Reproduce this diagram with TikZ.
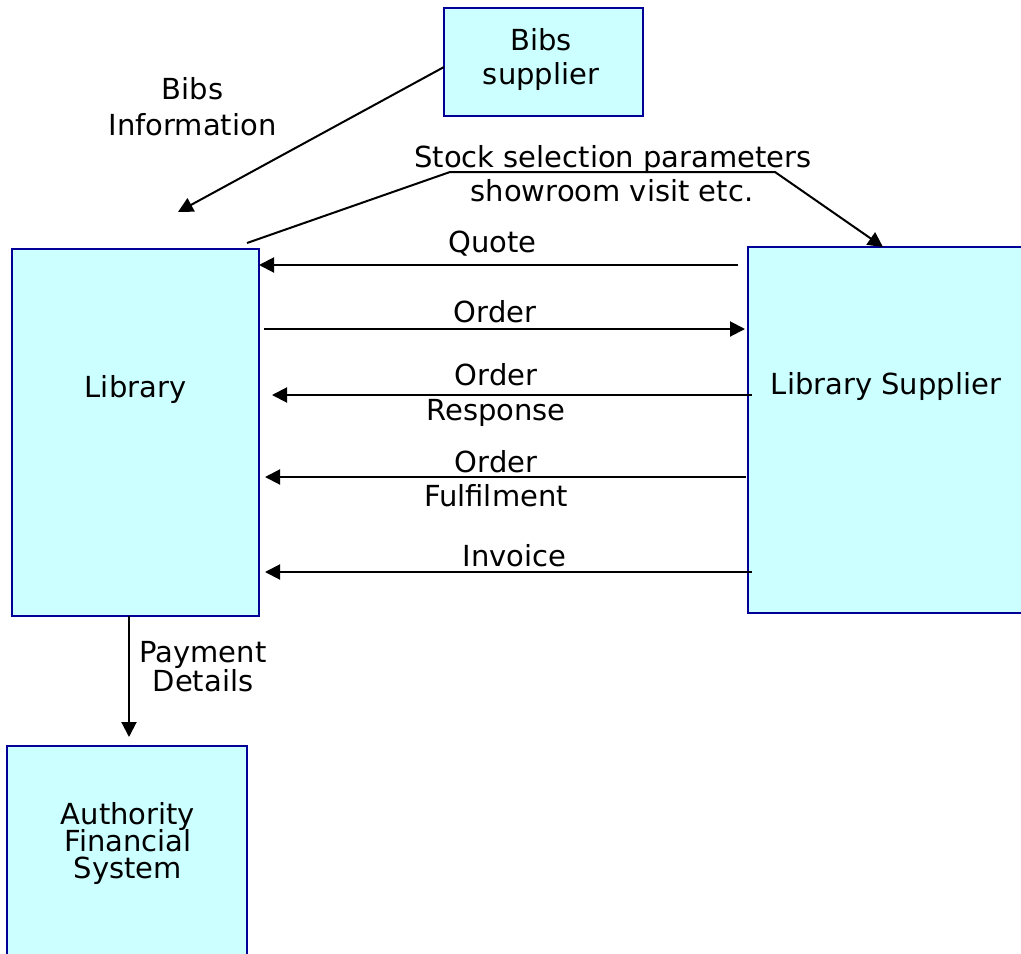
\documentclass[tikz,border=0pt]{standalone}
\usepackage{fontspec}
\setmainfont{DejaVu Sans}
\usetikzlibrary{arrows.meta}
\definecolor{boxfill}{HTML}{CCFFFF}
\definecolor{boxline}{HTML}{000099}
\tikzset{
  box/.style={draw=boxline, fill=boxfill, line width=2.2pt, inner sep=0pt, outer sep=0pt},
  txt/.style={font=\fontsize{29}{34}\selectfont, inner sep=0pt, anchor=base},
  conn/.style={line width=2pt, draw=black},
  arr/.style={conn, -{Triangle[length=15pt,width=15pt]}}
}
\begin{document}
\begin{tikzpicture}[x=1pt,y=-1pt]
\useasboundingbox (0,0) rectangle (1021,954);
% boxes
\node[box, minimum width=199pt, minimum height=108pt] (bibs) at (543.5,62) {};
\node[box, minimum width=247pt, minimum height=367pt] (lib) at (135.5,432.5) {};
\node[box, minimum width=282pt, minimum height=366pt] (sup) at (889,430) {};
\node[box, minimum width=240pt, minimum height=224pt] (auth) at (127,858) {};
% box texts
\node[txt] (bibst1) at (541,50) {Bibs};
\node[txt] (bibst2) at (541,84) {supplier};
\node[txt] (libt) at (135.5,397) {Library};
\node[txt] (supt) at (886,394) {Library Supplier};
\node[txt] (autht1) at (128,824) {Authority};
\node[txt] (autht2) at (128,851) {Financial};
\node[txt] (autht3) at (128,878) {System};
% connectors
\coordinate (bibsend) at (178,212);
\draw[arr] (bibs.west |- 0,67) -- (bibsend);
\coordinate (s0) at (247,243);
\coordinate (s1) at (450,172);
\coordinate (s2) at (775,172);
\draw[arr] (s0) -- (s1) -- (s2) -- (sup.north -| 883,0);
\draw[arr] ([xshift=-10pt]sup.west |- 0,265) -- (lib.east |- 0,265);
\draw[arr] ([xshift=5pt]lib.east |- 0,329) -- ([xshift=-3pt]sup.west |- 0,329);
\draw[arr] ([xshift=4pt]sup.west |- 0,395) -- ([xshift=13pt]lib.east |- 0,395);
\draw[arr] ([xshift=-2pt]sup.west |- 0,477) -- ([xshift=6pt]lib.east |- 0,477);
\draw[arr] ([xshift=4pt]sup.west |- 0,572) -- ([xshift=6pt]lib.east |- 0,572);
\draw[arr] (lib.south -| 129,0) -- ([yshift=9pt]auth.north -| 129,0);
% connector labels
\node[txt] (l1a) at (192.5,99) {Bibs};
\node[txt] (l1b) at (192.5,135) {Information};
\node[txt] (l2a) at (613,167) {Stock selection parameters};
\node[txt] (l2b) at (612,201) {showroom visit etc.};
\node[txt] (l3) at (492.5,252) {Quote};
\node[txt] (l4) at (495,322) {Order};
\node[txt] (l5a) at (496,385) {Order};
\node[txt] (l5b) at (496,420) {Response};
\node[txt] (l6a) at (496,472) {Order};
\node[txt] (l6b) at (496,506) {Fulfilment};
\node[txt] (l7) at (514.5,566) {Invoice};
\node[txt] (l8a) at (203,662) {Payment};
\node[txt] (l8b) at (203,691) {Details};
\end{tikzpicture}
\end{document}
